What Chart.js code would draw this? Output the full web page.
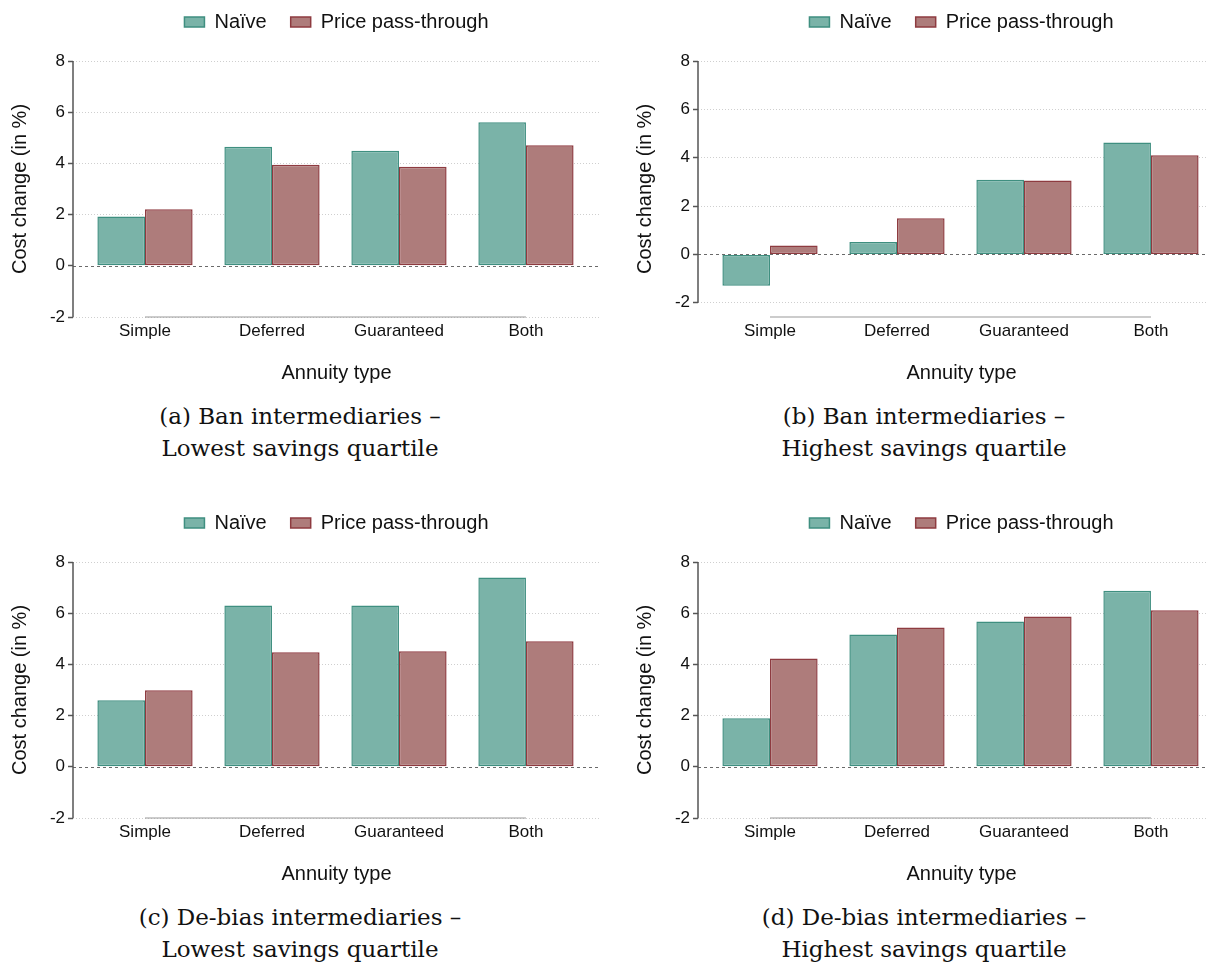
<!DOCTYPE html>
<html>
<head>
<meta charset="utf-8">
<script src="https://cdn.jsdelivr.net/npm/chart.js@4.4.1/dist/chart.umd.min.js"></script>
<style>
  html, body { margin: 0; padding: 0; background: #fff; }
  body { width: 1207px; height: 965px; overflow: hidden; position: relative; }
  canvas { position: absolute; }
  .cap {
    position: absolute; width: 600px; text-align: center;
    font-family: "DejaVu Serif", "Liberation Serif", serif;
    font-size: 23px; line-height: 32px; color: #111;
  }
</style>
</head>
<body>
<canvas id="c-a" width="610" height="407" style="left:0px;top:-12px"></canvas>
<canvas id="c-b" width="610" height="407" style="left:625px;top:-12px"></canvas>
<canvas id="c-c" width="610" height="407" style="left:0px;top:489px"></canvas>
<canvas id="c-d" width="610" height="407" style="left:625px;top:489px"></canvas>
<div class="cap" style="left:0px;top:400px">(a) Ban intermediaries –<br>Lowest savings quartile</div>
<div class="cap" style="left:624px;top:400px">(b) Ban intermediaries –<br>Highest savings quartile</div>
<div class="cap" style="left:0px;top:901px">(c) De-bias intermediaries –<br>Lowest savings quartile</div>
<div class="cap" style="left:624px;top:901px">(d) De-bias intermediaries –<br>Highest savings quartile</div>
<script>
// values
var categories = ['Simple', 'Deferred', 'Guaranteed', 'Both'];
var seriesNames = ['Naïve', 'Price pass-through'];
var yTicks = [-2, 0, 2, 4, 6, 8];

var naiveBanLow     = [1.93, 4.65, 4.49, 5.61];
var priceBanLow     = [2.21, 3.95, 3.87, 4.71];
var naiveBanHigh    = [-1.30, 0.51, 3.09, 4.63];
var priceBanHigh    = [0.37, 1.50, 3.06, 4.10];
var naiveDebiasLow  = [2.60, 6.30, 6.30, 7.39];
var priceDebiasLow  = [2.99, 4.47, 4.51, 4.90];
var naiveDebiasHigh = [1.90, 5.17, 5.68, 6.88];
var priceDebiasHigh = [4.23, 5.44, 5.87, 6.12];

var naiveFill = '#7ab3a8', naiveLine = '#3f8f80';
var priceFill = '#ae7c7b', priceLine = '#8e3b40';

Chart.defaults.font.family = '"Liberation Sans", Arial, sans-serif';
Chart.defaults.color = '#111';

function toPoints(values) {
    var pts = [];
    for (var i = 0; i < values.length; i++) {
        pts.push({x: i, y: values[i]});
    }
    return pts;
}

// extra room under the legend, like the Stata layout
var legendGap = {
    id: 'legendGap',
    beforeLayout: function(chart) {
        var lg = chart.legend;
        if (lg && !lg.gapPatched) {
            var fit = lg.fit;
            lg.fit = function() {
                fit.call(this);
                this.height += 19;
            };
            lg.gapPatched = true;
        }
    }
};

// axis lines + dashed zero line
var axisLines = {
    id: 'axisLines',
    afterDatasetsDraw: function(chart) {
        var ctx = chart.ctx;
        var xs = chart.scales.x, ys = chart.scales.y;
        var area = chart.chartArea;
        ctx.save();
        // zero line
        ctx.strokeStyle = '#6a6a6a';
        ctx.lineWidth = 1;
        ctx.setLineDash([3, 3]);
        var y0 = Math.round(ys.getPixelForValue(0)) + 0.5;
        ctx.beginPath();
        ctx.moveTo(area.left, y0);
        ctx.lineTo(area.right, y0);
        ctx.stroke();
        ctx.setLineDash([]);
        // y axis
        ctx.strokeStyle = '#555';
        ctx.lineWidth = 1.5;
        ctx.beginPath();
        ctx.moveTo(area.left, ys.getPixelForValue(yTicks[0]));
        ctx.lineTo(area.left, ys.getPixelForValue(yTicks[yTicks.length - 1]));
        ctx.stroke();
        // x axis
        ctx.strokeStyle = '#9a9a9a';
        ctx.lineWidth = 1.2;
        ctx.beginPath();
        ctx.moveTo(xs.getPixelForValue(0), area.bottom);
        ctx.lineTo(xs.getPixelForValue(categories.length - 1), area.bottom);
        ctx.stroke();
        ctx.restore();
    }
};

function drawPanel(id, naive, price, yMin) {
    var ctx = document.getElementById(id).getContext('2d');
    return new Chart(ctx, {
        type: 'bar',
        data: {
            datasets: [{
                label: seriesNames[0],
                data: toPoints(naive),
                backgroundColor: naiveFill,
                borderColor: naiveLine,
                borderWidth: 1.5,
                borderSkipped: false
            }, {
                label: seriesNames[1],
                data: toPoints(price),
                backgroundColor: priceFill,
                borderColor: priceLine,
                borderWidth: 1.5,
                borderSkipped: false
            }]
        },
        options: {
            responsive: false,
            animation: false,
            devicePixelRatio: 1,
            categoryPercentage: 0.75,
            barPercentage: 1,
            layout: { padding: { left: 0, right: 10, top: 0, bottom: 0 } },
            plugins: {
                tooltip: { enabled: false },
                legend: {
                    position: 'top',
                    fullSize: false,
                    labels: {
                        boxWidth: 20,
                        boxHeight: 10,
                        padding: 24,
                        color: '#111',
                        font: { size: 20 }
                    }
                }
            },
            scales: {
                x: {
                    type: 'linear',
                    offset: false,
                    min: -0.567,
                    max: 3.583,
                    afterBuildTicks: function(scale) {
                        scale.ticks = categories.map(function(c, i) { return {value: i}; });
                    },
                    afterFit: function(scale) { scale.height = 78; },
                    grid: { display: false, drawTicks: false, offset: false },
                    border: { display: false },
                    ticks: {
                        autoSkip: false,
                        maxRotation: 0,
                        padding: 4,
                        font: { size: 17 },
                        callback: function(v) { return categories[v]; }
                    },
                    title: {
                        display: true,
                        text: 'Annuity type',
                        font: { size: 20 },
                        padding: { top: 0, bottom: 10 }
                    }
                },
                y: {
                    min: yMin,
                    max: 8,
                    afterBuildTicks: function(scale) {
                        scale.ticks = yTicks.map(function(v) { return {value: v}; });
                    },
                    afterFit: function(scale) { scale.width = 73; },
                    grid: {
                        color: function(c) {
                            return (c.tick && c.tick.value === 0) ? 'rgba(0,0,0,0)' : '#cfcfcf';
                        },
                        lineWidth: 1,
                        tickLength: 5,
                        tickColor: '#555',
                        tickWidth: 1.5,
                        tickBorderDash: []
                    },
                    border: { display: false, dash: [1, 2] },
                    ticks: {
                        padding: 3,
                        font: { size: 17 }
                    },
                    title: {
                        display: true,
                        text: 'Cost change (in %)',
                        font: { size: 20 },
                        padding: { top: 8, bottom: 0 }
                    }
                }
            }
        },
        plugins: [legendGap, axisLines]
    });
}

drawPanel('c-a', naiveBanLow, priceBanLow, -2);
drawPanel('c-b', naiveBanHigh, priceBanHigh, -2.59);
drawPanel('c-c', naiveDebiasLow, priceDebiasLow, -2);
drawPanel('c-d', naiveDebiasHigh, priceDebiasHigh, -2);
</script>
</body>
</html>
